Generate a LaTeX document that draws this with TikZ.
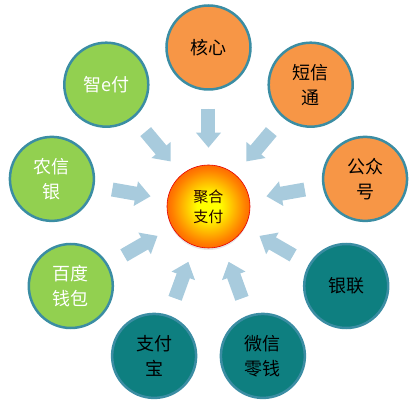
\documentclass[tikz,border=0pt]{standalone}
\usepackage{fontspec}
\newfontfamily\cjk{Noto Sans CJK SC}
\usetikzlibrary{arrows.meta,shadows}
\definecolor{ringblue}{RGB}{59,141,163}
\definecolor{arrowblue}{RGB}{168,203,221}
\definecolor{coreorange}{RGB}{247,150,70}
\definecolor{leafgreen}{RGB}{146,208,80}
\definecolor{darkteal}{RGB}{14,127,128}
\definecolor{sunred}{RGB}{250,30,10}
\pgfdeclareradialshading{sunball}{\pgfpoint{0bp}{0bp}}{%
  color(0bp)=(yellow); color(7bp)=(yellow); color(22bp)=(orange);
  color(36bp)=(sunred); color(50bp)=(sunred)}

\begin{document}
\begin{tikzpicture}[x=1pt, y=1pt, thick,
	main node/.style={circle,draw=ringblue,line width=2.5pt,minimum size=84pt,inner sep=0pt,
		align=center,font=\cjk\fontsize{18}{25}\selectfont},
	orange node/.style={main node,fill=coreorange,text=black},
	green node/.style={main node,fill=leafgreen,text=white},
	teal node/.style={main node,fill=darkteal,text=black},
	flow/.style={draw=arrowblue,fill=arrowblue,line width=14pt,shorten <=18pt,shorten >=17pt,
		-{Triangle[width=24pt,length=15pt,color=arrowblue]}}]
	\useasboundingbox (-208.5,-197.5) rectangle (206.5,206.5);
	
	\node[circle,shading=sunball,draw=red!90!black,line width=0.6pt,minimum size=83pt,inner sep=0pt,
		align=center,font=\cjk\fontsize{15}{20}\selectfont,text=black!85!red,
		drop shadow={opacity=0.2,shadow xshift=0pt,shadow yshift=-2pt}] (0) {聚合\\支付};
	
	\node[orange node] (1) at (90:159pt) {核心};
	\node[orange node] (2) at (50:159pt) {短信\\通};
	\node[orange node] (3) at (10:159pt) {公众\\号};
	\node[teal node] (4) at (-30:159pt) {银联};
	\node[teal node] (5) at (-70:159pt) {微信\\零钱};
	\node[teal node] (6) at (-110:159pt) {支付\\宝};
	\node[green node] (7) at (-150:159pt) {百度\\钱包};
	\node[green node] (8) at (170:159pt) {农信\\银};
	\node[green node] (9) at (130:159pt) {智e付};
	
	\path
	(1) edge[flow] (0)
	(2) edge[flow] (0)
	(3) edge[flow] (0)
	(4) edge[flow] (0)
	(5) edge[flow] (0)
	(6) edge[flow] (0)
	(7) edge[flow] (0)
	(8) edge[flow] (0)
	(9) edge[flow] (0);
\end{tikzpicture}
\end{document}
